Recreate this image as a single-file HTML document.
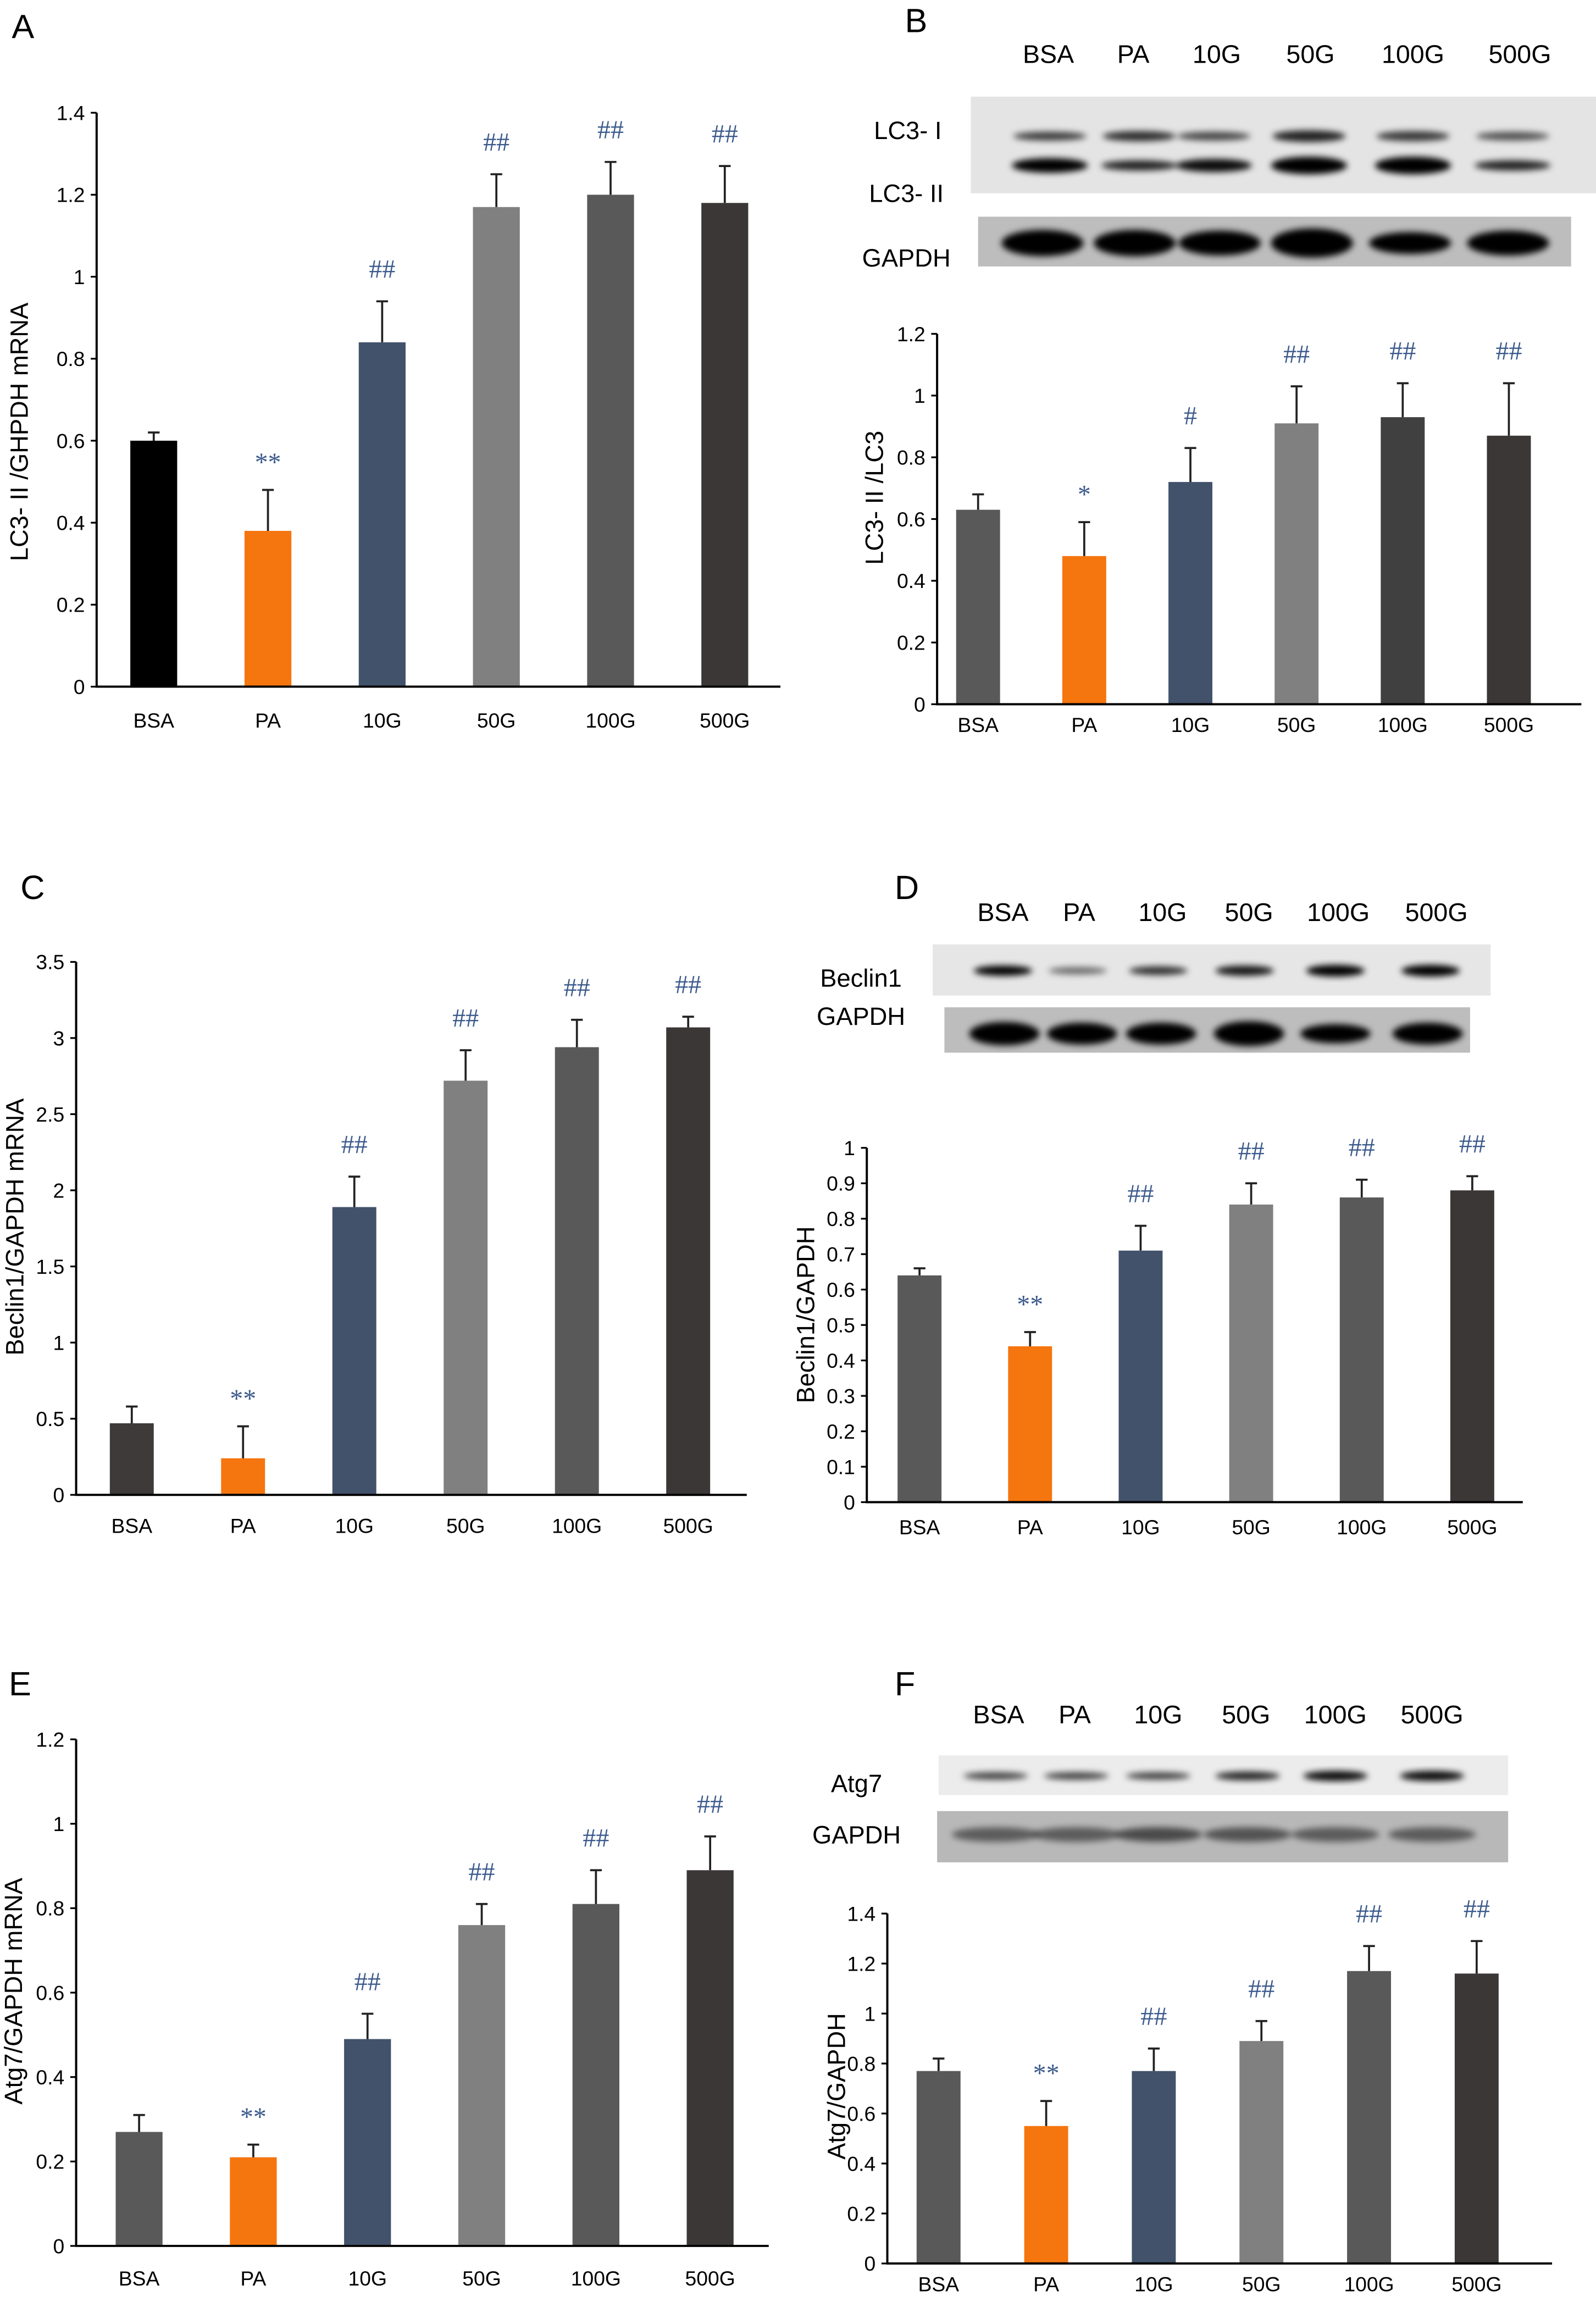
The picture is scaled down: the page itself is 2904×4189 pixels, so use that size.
<!DOCTYPE html>
<html><head><meta charset="utf-8"><style>
html,body{margin:0;padding:0;background:#fff;}
svg{display:block;font-family:"Liberation Sans",Arial,sans-serif;}
</style></head><body>
<svg id="fig" xmlns="http://www.w3.org/2000/svg" width="2904" height="4189" viewBox="0 0 1090 1572.3">
<defs>
<filter id="blur" x="-20%" y="-50%" width="140%" height="200%"><feGaussianBlur stdDeviation="2.2"/></filter>
</defs>
<g id="root"></g>
</svg>
<script>
// ---- data ----
const categories = ["BSA","PA","10G","50G","100G","500G"];
const aTicks = [0,0.2,0.4,0.6,0.8,1,1.2,1.4];
const aValues = [0.6,0.38,0.84,1.17,1.2,1.18];
const aErrors = [0.62,0.48,0.94,1.25,1.28,1.27];
const aMarks = ["","**","##","##","##","##"];
const bTicks = [0,0.2,0.4,0.6,0.8,1,1.2];
const bValues = [0.63,0.48,0.72,0.91,0.93,0.87];
const bErrors = [0.68,0.59,0.83,1.03,1.04,1.04];
const bMarks = ["","*","#","##","##","##"];
const cTicks = [0,0.5,1,1.5,2,2.5,3,3.5];
const cValues = [0.47,0.24,1.89,2.72,2.94,3.07];
const cErrors = [0.58,0.45,2.09,2.92,3.12,3.14];
const cMarks = ["","**","##","##","##","##"];
const dTicks = [0,0.1,0.2,0.3,0.4,0.5,0.6,0.7,0.8,0.9,1];
const dValues = [0.64,0.44,0.71,0.84,0.86,0.88];
const dErrors = [0.66,0.48,0.78,0.9,0.91,0.92];
const dMarks = ["","**","##","##","##","##"];
const eTicks = [0,0.2,0.4,0.6,0.8,1,1.2];
const eValues = [0.27,0.21,0.49,0.76,0.81,0.89];
const eErrors = [0.31,0.24,0.55,0.81,0.89,0.97];
const eMarks = ["","**","##","##","##","##"];
const fTicks = [0,0.2,0.4,0.6,0.8,1,1.2,1.4];
const fValues = [0.77,0.55,0.77,0.89,1.17,1.16];
const fErrors = [0.82,0.65,0.86,0.97,1.27,1.29];
const fMarks = ["","**","##","##","##","##"];

const NS = "http://www.w3.org/2000/svg";
const root = document.getElementById("root");
function mk(tag, attrs, parent, txt){
  const e = document.createElementNS(NS, tag);
  for (const k in attrs) e.setAttribute(k, attrs[k]);
  if (txt !== undefined) e.textContent = txt;
  (parent||root).appendChild(e);
  return e;
}
const ORANGE="#f5750f", NAVY="#42526b";

function chart(id, cfg, ticks, values, errors, marks){
  const g = mk("g",{});
  
  
  const tmax = ticks[ticks.length-1];
  const y = v => cfg.y0 - (v/tmax)*(cfg.y0-cfg.yTop);
  const x = i => cfg.x0 + cfg.off + i*cfg.step;
  values.forEach((v,i)=>{
    const r = mk("rect",{x:x(i)-cfg.bw/2,y:y(v),width:cfg.bw,height:cfg.y0-y(v),fill:cfg.colors[i]},g);
    
    
    const e = mk("path",{d:`M${x(i)} ${y(v)}V${y(errors[i])}M${x(i)-4} ${y(errors[i])}H${x(i)+4}`,stroke:"#222","stroke-width":1.4,fill:"none"},g);
    
    
    if (marks[i]) {
      const star = marks[i].indexOf("*")>=0;
      const off = star ? 13 : 16;
      const t = mk("text",{x:x(i),y:y(errors[i])-off,"text-anchor":"middle","font-size":18,fill:"#3b5a8c","font-family":"Liberation Serif, serif"},g,marks[i]);
      
      
    }
    const lbl = mk("text",{x:x(i),y:cfg.xlabY,"text-anchor":"middle","font-size":14,fill:"#000"},g,categories[i]);
    
    
  });
  const ax = mk("path",{d:`M${cfg.x0} ${cfg.yTop}V${cfg.y0}H${cfg.xEnd}`,stroke:"#000","stroke-width":1.5,fill:"none"},g);
  
  
  ticks.forEach(t=>{
    mk("path",{d:`M${cfg.x0-4} ${y(t)}H${cfg.x0}`,stroke:"#000","stroke-width":1.2},g);
    const tl = mk("text",{x:cfg.x0-8,y:y(t)+5,"text-anchor":"end","font-size":14,fill:"#000"},g,String(t));
    
    
  });
  const yt = mk("text",{transform:`translate(${cfg.titleX},${cfg.titleY}) rotate(-90)`,"text-anchor":"middle","font-size":17,fill:"#000"},g,cfg.title);
  
  
}

function letter(t,x,y){
  const e = mk("text",{x:x,y:y,"font-size":23,fill:"#000"},root,t);
  
  
}
function headers(id,xs,y,size){
  xs.forEach((xx,i)=>{
    const e = mk("text",{x:xx,y:y,"text-anchor":"middle","font-size":size,fill:"#000"},root,categories[i]);
    
    
  });
}
function rowLabel(id,t,x,y){
  const e = mk("text",{x:x,y:y,"text-anchor":"middle","font-size":17,fill:"#000"},root,t);
  
  
}
function blot(id,x,y,w,h,bg,xs,bands){
  const g = mk("g",{});
  
  
  mk("rect",{x:x,y:y,width:w,height:h,fill:bg},g);
  const bl = mk("g",{filter:"url(#blur)"},g);
  bands.forEach(b=>{
    xs.forEach((xx,i)=>{
      mk("ellipse",{cx:xx,cy:b.y,rx:b.rx,ry:b.ry[i],fill:"#000","fill-opacity":b.op[i]},bl);
    });
  });
}

// Panel A
letter("A",8,26);
chart("a",{x0:66,y0:469,yTop:77,xEnd:533,off:39,step:78,bw:32,xlabY:497,
  colors:["#000000",ORANGE,NAVY,"#808080","#595959","#3a3736"],title:"LC3- II /GHPDH mRNA",titleX:19,titleY:295},
  aTicks,aValues,aErrors,aMarks);

// Panel B
letter("B",618,22);
headers("b",[716,774,831,895,965,1038],43,17.5);
blot("lc3-blot",663,66,427,66,"#e4e4e4",[717,778,829,894,965,1033],[
  {y:93,rx:25,ry:[3,3.5,3,4,3.5,3],op:[0.75,0.8,0.7,0.85,0.75,0.65]},
  {y:113,rx:26,ry:[5,3.5,4.5,6,6,3.5],op:[1,0.85,0.95,1,1,0.85]}]);
blot("lc3-gapdh-blot",668,148,405,34,"#bdbdbd",[712,775,833,896,963,1030],[
  {y:166,rx:28,ry:[9,9,8.5,10,7.5,8.5],op:[1,1,1,1,1,1]}]);
rowLabel("lc3-i-label","LC3- I",620,95);
rowLabel("lc3-ii-label","LC3- II",619,138);
rowLabel("gapdh-label-b","GAPDH",619,182);
chart("b",{x0:640,y0:481,yTop:228,xEnd:1080,off:28,step:72.5,bw:30,xlabY:500,
  colors:["#595959",ORANGE,NAVY,"#808080","#404040","#3a3736"],title:"LC3- II /LC3",titleX:603,titleY:340},
  bTicks,bValues,bErrors,bMarks);

// Panel C
letter("C",14,614);
chart("c",{x0:52,y0:1021,yTop:657,xEnd:510,off:38,step:76,bw:30,xlabY:1047,
  colors:["#3d3a39",ORANGE,NAVY,"#808080","#595959","#3a3736"],title:"Beclin1/GAPDH mRNA",titleX:16,titleY:838},
  cTicks,cValues,cErrors,cMarks);

// Panel D
letter("D",611,614);
headers("d",[685,737,794,853,914,981],629,17.5);
blot("beclin1-blot",637,645,381,35,"#e6e6e6",[685,736,791,850,912,977],[
  {y:663,rx:20,ry:[3.5,2.5,3,3.5,4,4],op:[1,0.55,0.8,0.9,1,1]}]);
blot("beclin1-gapdh-blot",645,688,359,31,"#bdbdbd",[686,739,793,853,912,975],[
  {y:706,rx:24,ry:[8,7.5,7.5,8.5,6.5,7.5],op:[1,1,1,1,1,1]}]);
rowLabel("beclin1-label","Beclin1",588,674);
rowLabel("gapdh-label-d","GAPDH",588,700);
chart("d",{x0:592,y0:1026,yTop:784,xEnd:1040,off:36,step:75.5,bw:30,xlabY:1048,
  colors:["#595959",ORANGE,NAVY,"#808080","#595959","#3a3736"],title:"Beclin1/GAPDH",titleX:556,titleY:898},
  dTicks,dValues,dErrors,dMarks);

// Panel E
letter("E",6,1158);
chart("e",{x0:52,y0:1534,yTop:1188,xEnd:525,off:43,step:78,bw:32,xlabY:1561,
  colors:["#595959",ORANGE,NAVY,"#808080","#595959","#3a3736"],title:"Atg7/GAPDH mRNA",titleX:15,titleY:1360},
  eTicks,eValues,eErrors,eMarks);

// Panel F
letter("F",611,1158);
headers("f",[682,734,791,851,912,978],1177,17.5);
blot("atg7-blot",641,1199,389,27,"#ececec",[680,735,791,852,912,978],[
  {y:1213,rx:22,ry:[2.5,2.5,2.5,3,3.5,3.5],op:[0.75,0.75,0.75,0.85,0.95,0.95]}]);
blot("atg7-gapdh-blot",640,1237,390,35,"#b8b8b8",[680,735,791,852,912,978],[
  {y:1253,rx:30,ry:[5,5,5,5,5,5],op:[0.5,0.5,0.6,0.55,0.5,0.5]}]);
rowLabel("atg7-label","Atg7",585,1224);
rowLabel("gapdh-label-f","GAPDH",585,1259);
chart("f",{x0:606,y0:1546,yTop:1307,xEnd:1060,off:35,step:73.5,bw:30,xlabY:1565,
  colors:["#595959",ORANGE,NAVY,"#808080","#595959","#3a3736"],title:"Atg7/GAPDH",titleX:577,titleY:1425},
  fTicks,fValues,fErrors,fMarks);
</script>
</body></html>
